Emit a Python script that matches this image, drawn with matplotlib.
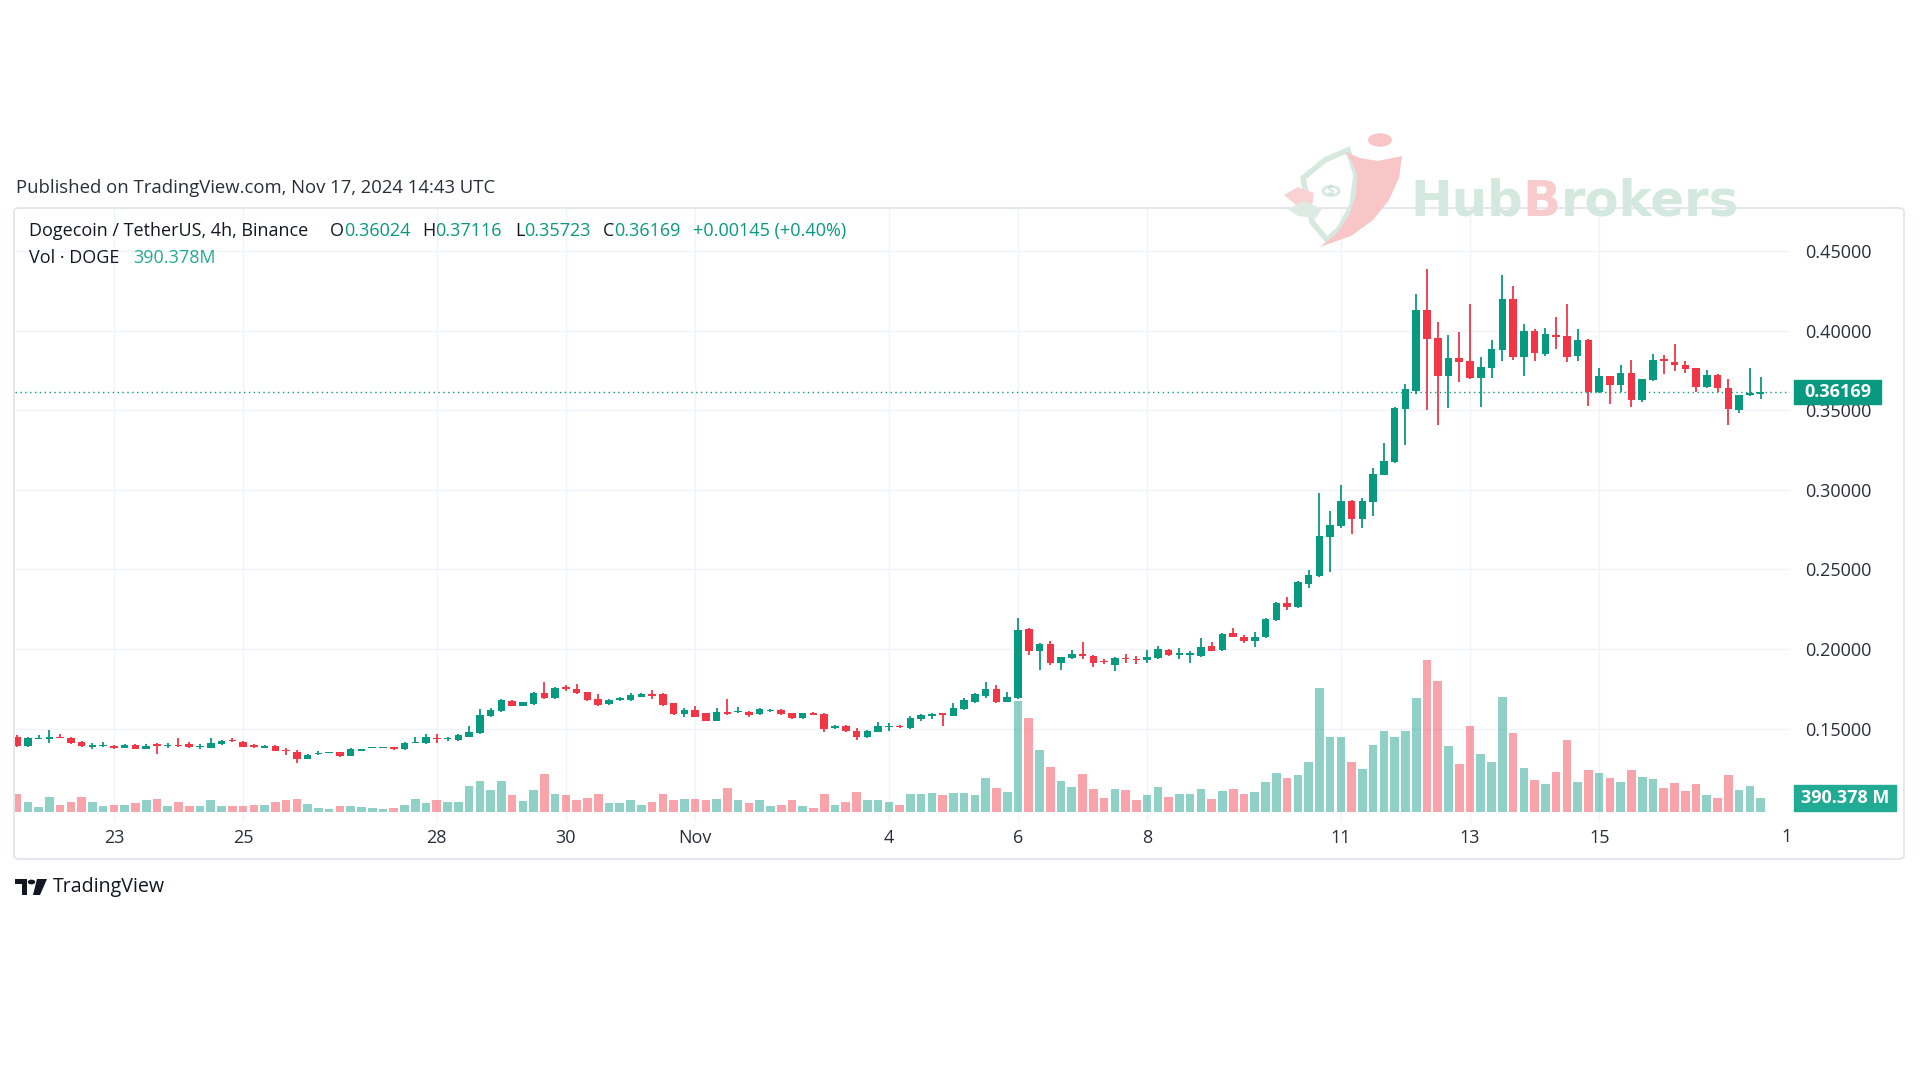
import matplotlib
matplotlib.use('Agg')
import matplotlib.pyplot as plt
import matplotlib.dates as mdates
import matplotlib.transforms as mtransforms
from matplotlib.patches import Rectangle, FancyBboxPatch, Circle, Polygon
import numpy as np
import pandas as pd

FONT = ['Open Sans', 'DejaVu Sans']
plt.rcParams['font.family'] = FONT

# ---------------- data (DOGE/USDT 4h, Binance) ----------------
first_bar = '2024-10-21 12:00'
opens = [0.1449, 0.1393, 0.1432, 0.1432, 0.1449, 0.1443, 0.1418, 0.1386, 0.1389, 0.1393,
         0.1380, 0.1395, 0.1372, 0.1401, 0.1389, 0.1397, 0.1403, 0.1382, 0.1380, 0.1401,
         0.1428, 0.1418, 0.1397, 0.1380, 0.1393, 0.1365, 0.1355, 0.1309, 0.1340, 0.1349,
         0.1355, 0.1330, 0.1359, 0.1380, 0.1380, 0.1382, 0.1370, 0.1407, 0.1407, 0.1443,
         0.1432, 0.1428, 0.1449, 0.1470, 0.1579, 0.1610, 0.1675, 0.1644, 0.1654, 0.1726,
         0.1690, 0.1759, 0.1749, 0.1728, 0.1686, 0.1652, 0.1682, 0.1680, 0.1700, 0.1715,
         0.1715, 0.1659, 0.1589, 0.1617, 0.1596, 0.1550, 0.1602, 0.1602, 0.1606, 0.1592,
         0.1608, 0.1617, 0.1596, 0.1564, 0.1596, 0.1592, 0.1502, 0.1516, 0.1485, 0.1445,
         0.1481, 0.1508, 0.1516, 0.1502, 0.1558, 0.1579, 0.1596, 0.1581, 0.1621, 0.1665,
         0.1705, 0.1749, 0.1669, 0.1690, 0.2123, 0.1989, 0.2031, 0.1910, 0.1941, 0.1969,
         0.1956, 0.1925, 0.1899, 0.1946, 0.1939, 0.1931, 0.1941, 0.1994, 0.1964, 0.1964,
         0.1956, 0.2019, 0.1994, 0.2102, 0.2077, 0.2050, 0.2073, 0.2182, 0.2291, 0.2262,
         0.2408, 0.2457, 0.2701, 0.2775, 0.2931, 0.2817, 0.2921, 0.3096, 0.3175, 0.3507,
         0.3623, 0.4127, 0.3955, 0.3716, 0.3825, 0.3809, 0.3705, 0.3767, 0.3879, 0.4199,
         0.3837, 0.4000, 0.3856, 0.3972, 0.3967, 0.3839, 0.3944, 0.3612, 0.3712, 0.3658,
         0.3735, 0.3565, 0.3688, 0.3821, 0.3804, 0.3781, 0.3763, 0.3647, 0.3723, 0.3642,
         0.3502, 0.3593, 0.36024]
highs = [0.1460, 0.1449, 0.1460, 0.1491, 0.1466, 0.1449, 0.1424, 0.1407, 0.1418, 0.1397,
         0.1403, 0.1401, 0.1403, 0.1407, 0.1407, 0.1439, 0.1418, 0.1401, 0.1439, 0.1428,
         0.1443, 0.1424, 0.1403, 0.1397, 0.1397, 0.1376, 0.1365, 0.1340, 0.1357, 0.1355,
         0.1355, 0.1376, 0.1374, 0.1386, 0.1384, 0.1386, 0.1416, 0.1445, 0.1464, 0.1466,
         0.1449, 0.1464, 0.1516, 0.1621, 0.1627, 0.1686, 0.1682, 0.1669, 0.1732, 0.1795,
         0.1763, 0.1774, 0.1778, 0.1732, 0.1715, 0.1684, 0.1700, 0.1726, 0.1721, 0.1742,
         0.1721, 0.1663, 0.1627, 0.1642, 0.1600, 0.1627, 0.1684, 0.1633, 0.1612, 0.1627,
         0.1623, 0.1623, 0.1600, 0.1600, 0.1604, 0.1596, 0.1520, 0.1520, 0.1506, 0.1491,
         0.1543, 0.1537, 0.1520, 0.1579, 0.1592, 0.1600, 0.1600, 0.1659, 0.1690, 0.1721,
         0.1795, 0.1774, 0.1732, 0.2197, 0.2134, 0.2036, 0.2050, 0.1952, 0.1994, 0.2042,
         0.1962, 0.1937, 0.1952, 0.1969, 0.1956, 0.1994, 0.2019, 0.1998, 0.2004, 0.1989,
         0.2067, 0.2042, 0.2098, 0.2130, 0.2088, 0.2105, 0.2192, 0.2297, 0.2329, 0.2425,
         0.2496, 0.2980, 0.2868, 0.3031, 0.2936, 0.2949, 0.3135, 0.3293, 0.3519, 0.3665,
         0.4227, 0.4390, 0.4053, 0.3972, 0.3990, 0.4169, 0.3832, 0.3944, 0.4348, 0.4279,
         0.4042, 0.4007, 0.4014, 0.4088, 0.4169, 0.4007, 0.3949, 0.3763, 0.3716, 0.3786,
         0.3816, 0.3698, 0.3856, 0.3844, 0.3918, 0.3809, 0.3767, 0.3751, 0.3728, 0.3693,
         0.3598, 0.3767, 0.37116]
lows = [0.1386, 0.1386, 0.1432, 0.1407, 0.1441, 0.1403, 0.1386, 0.1370, 0.1386, 0.1370,
        0.1376, 0.1370, 0.1370, 0.1340, 0.1376, 0.1386, 0.1378, 0.1372, 0.1376, 0.1397,
        0.1418, 0.1382, 0.1378, 0.1376, 0.1357, 0.1334, 0.1282, 0.1307, 0.1336, 0.1347,
        0.1323, 0.1328, 0.1357, 0.1376, 0.1378, 0.1366, 0.1365, 0.1407, 0.1403, 0.1407,
        0.1424, 0.1424, 0.1445, 0.1466, 0.1575, 0.1606, 0.1640, 0.1642, 0.1648, 0.1686,
        0.1686, 0.1736, 0.1717, 0.1675, 0.1644, 0.1646, 0.1675, 0.1675, 0.1696, 0.1686,
        0.1644, 0.1585, 0.1571, 0.1571, 0.1546, 0.1546, 0.1588, 0.1596, 0.1571, 0.1587,
        0.1602, 0.1585, 0.1560, 0.1560, 0.1583, 0.1476, 0.1497, 0.1481, 0.1428, 0.1439,
        0.1476, 0.1487, 0.1504, 0.1497, 0.1550, 0.1558, 0.1516, 0.1577, 0.1617, 0.1661,
        0.1690, 0.1659, 0.1665, 0.1686, 0.1962, 0.1868, 0.1899, 0.1868, 0.1937, 0.1935,
        0.1889, 0.1904, 0.1864, 0.1910, 0.1906, 0.1910, 0.1937, 0.1958, 0.1935, 0.1910,
        0.1948, 0.1985, 0.1989, 0.2073, 0.2036, 0.2010, 0.2069, 0.2178, 0.2245, 0.2255,
        0.2385, 0.2452, 0.2485, 0.2759, 0.2722, 0.2763, 0.2833, 0.3091, 0.3170, 0.3279,
        0.3600, 0.3502, 0.3409, 0.3512, 0.3677, 0.3693, 0.3519, 0.3705, 0.3809, 0.3816,
        0.3716, 0.3809, 0.3839, 0.3886, 0.3804, 0.3809, 0.3526, 0.3607, 0.3537, 0.3612,
        0.3523, 0.3549, 0.3684, 0.3728, 0.3746, 0.3735, 0.3612, 0.3642, 0.3612, 0.3409,
        0.3484, 0.3588, 0.35723]
closes = [0.1393, 0.1439, 0.1443, 0.1445, 0.1441, 0.1407, 0.1391, 0.1395, 0.1397, 0.1376,
          0.1397, 0.1372, 0.1393, 0.1393, 0.1397, 0.1389, 0.1382, 0.1391, 0.1407, 0.1422,
          0.1420, 0.1386, 0.1382, 0.1393, 0.1361, 0.1357, 0.1307, 0.1334, 0.1349, 0.1353,
          0.1328, 0.1370, 0.1372, 0.1382, 0.1382, 0.1370, 0.1411, 0.1418, 0.1449, 0.1432,
          0.1441, 0.1460, 0.1481, 0.1585, 0.1617, 0.1680, 0.1642, 0.1665, 0.1726, 0.1690,
          0.1757, 0.1751, 0.1721, 0.1680, 0.1648, 0.1680, 0.1690, 0.1711, 0.1715, 0.1707,
          0.1648, 0.1589, 0.1617, 0.1575, 0.1550, 0.1606, 0.1592, 0.1610, 0.1585, 0.1621,
          0.1617, 0.1589, 0.1564, 0.1596, 0.1587, 0.1497, 0.1516, 0.1485, 0.1445, 0.1485,
          0.1516, 0.1516, 0.1508, 0.1564, 0.1585, 0.1592, 0.1585, 0.1627, 0.1680, 0.1715,
          0.1749, 0.1665, 0.1700, 0.2119, 0.1989, 0.2029, 0.1910, 0.1948, 0.1969, 0.1958,
          0.1910, 0.1916, 0.1946, 0.1937, 0.1931, 0.1948, 0.1998, 0.1962, 0.1973, 0.1973,
          0.2015, 0.1989, 0.2094, 0.2077, 0.2050, 0.2073, 0.2188, 0.2287, 0.2262, 0.2418,
          0.2466, 0.2712, 0.2782, 0.2931, 0.2817, 0.2931, 0.3100, 0.3182, 0.3514, 0.3635,
          0.4127, 0.3949, 0.3716, 0.3825, 0.3804, 0.3705, 0.3774, 0.3886, 0.4199, 0.3832,
          0.3995, 0.3860, 0.3977, 0.3960, 0.3837, 0.3944, 0.3612, 0.3712, 0.3658, 0.3732,
          0.3565, 0.3693, 0.3814, 0.3809, 0.3781, 0.3758, 0.3647, 0.3723, 0.3642, 0.3507,
          0.3593, 0.3605, 0.36169]
volumes_m = [507, 277, 138, 407, 202, 277, 415, 277, 158, 202,
             202, 249, 324, 368, 166, 277, 158, 158, 324, 158,
             158, 158, 186, 202, 277, 324, 368, 230, 111, 75,
             158, 158, 130, 119, 75, 111, 186, 368, 249, 324,
             277, 277, 720, 850, 601, 850, 462, 296, 601, 1044,
             507, 462, 341, 388, 507, 249, 249, 324, 186, 277,
             507, 341, 368, 368, 324, 368, 665, 324, 249, 324,
             158, 186, 324, 158, 111, 507, 202, 277, 554, 324,
             324, 277, 202, 507, 507, 534, 462, 534, 534, 462,
             941, 678, 554, 3074, 2603, 1708, 1246, 858, 692, 1044,
             645, 388, 645, 601, 341, 462, 692, 415, 507, 507,
             645, 368, 590, 645, 507, 554, 831, 1080, 950, 1011,
             1371, 3447, 2063, 2063, 1398, 1191, 1855, 2254, 2077, 2254,
             3146, 4220, 3636, 1814, 1329, 2387, 1606, 1385, 3196, 2182,
             1229, 892, 767, 1116, 1997, 839, 1157, 1074, 941, 839,
             1157, 972, 922, 665, 800, 584, 767, 460, 390, 1025,
             615, 717, 390.378]

price_ticks = [0.15, 0.20, 0.25, 0.30, 0.35, 0.40, 0.45]
tick_dates = ['2024-10-23', '2024-10-25', '2024-10-28', '2024-10-30', '2024-11-01',
              '2024-11-04', '2024-11-06', '2024-11-08', '2024-11-11', '2024-11-13', '2024-11-15']
tick_labels = ['23', '25', '28', '30', 'Nov', '4', '6', '8', '11', '13', '15']
last_price = 0.36169
last_volume = 390.378

header = 'Published on TradingView.com, Nov 17, 2024 14:43 UTC'
symbol = 'Dogecoin / TetherUS, 4h, Binance'
ohlc_text = [('O', '0.36024'), ('H', '0.37116'), ('L', '0.35723'), ('C', '0.36169')]
change_text = '+0.00145 (+0.40%)'

# ---------------- style ----------------
GREEN = '#089981'
RED = '#F23645'
DARK = '#131722'
TXT = '#2a2e39'
GRID = '#f0f3fa'

W, H = 1920, 1080
fig = plt.figure(figsize=(W / 100, H / 100), dpi=100)
fig.patch.set_facecolor('white')
renderer = fig.canvas.get_renderer()


def fx(px):
    return px / W


def fy(py):
    return 1 - py / H


def fit(s, target, **kw):
    t = fig.text(0, 0, s, fontsize=12, **kw)
    w = t.get_window_extent(renderer).width
    t.remove()
    return 12 * target / w


FS = fit('0.36024', 67)          # legend / scale size
FS_HDR = fit(header, 476)
FS_TV = fit('TradingView', 112)

# layout in pixels
L, R, T, B = 15, 1790, 208, 822
VB, VH = 812, 170

ax = fig.add_axes([fx(L), fy(B), fx(R) - fx(L), (B - T) / H])
axv = fig.add_axes([fx(L), fy(VB), fx(R) - fx(L), VH / H])
ax.set_zorder(1)
axv.set_zorder(2)
axv.patch.set_visible(False)

o = np.array(opens); h = np.array(highs); lo = np.array(lows); c = np.array(closes)
v = np.array(volumes_m)
times = pd.date_range(first_bar, periods=len(c), freq='4h')
x = mdates.date2num(times)
bar_days = 4 / 24
up = c >= o
cols = np.where(up, GREEN, RED)

ppx = 0.05 / 79.6
p_top = 0.45 + (251 - T) * ppx
p_bot = 0.45 - (B - 251) * ppx
ax.set_ylim(p_bot, p_top)
x_left = x[0] - 0.19 * bar_days
x_right = x[0] + 164.73 * bar_days
ax.set_xlim(x_left, x_right)
axv.set_xlim(x_left, x_right)
axv.set_ylim(0, VH * 27.69)

for t in tick_dates:
    ax.axvline(mdates.date2num(pd.Timestamp(t)), color=GRID, lw=1, zorder=0)
for p in price_ticks:
    ax.axhline(p, color=GRID, lw=1, zorder=0)

ax.vlines(x, lo, h, colors=cols, lw=1.3, zorder=3)
body = np.maximum(np.abs(c - o), 0.0006)
ax.bar(x, body, bottom=np.minimum(o, c), width=bar_days * 0.70, color=cols, zorder=4, linewidth=0)

axv.bar(x, v, width=bar_days * 0.80, color=cols, alpha=0.45, linewidth=0)

ax.axhline(last_price, color=GREEN, lw=1, ls=(0, (1, 2.5)), zorder=2)

for a in (ax, axv):
    for s in a.spines.values():
        s.set_visible(False)
axv.set_xticks([]); axv.set_yticks([])

ax.yaxis.tick_right()
ax.set_yticks(price_ticks)
ax.set_yticklabels([f'{p:.5f}' for p in price_ticks])
ax.tick_params(axis='y', length=0, pad=11, labelsize=FS, labelcolor=TXT)
ax.set_xticks(mdates.date2num(pd.to_datetime(tick_dates)))
ax.set_xticklabels(tick_labels)
ax.tick_params(axis='x', length=0, pad=5, labelsize=FS, labelcolor=TXT)
fig.text(fx(1787), fy(837), '1', ha='center', va='center', fontsize=FS, color=TXT)

tp = mtransforms.blended_transform_factory(fig.transFigure, ax.transData)
bh = 24 * ppx
ax.add_patch(Rectangle((fx(1794), last_price - bh / 2), fx(1881) - fx(1794), bh,
                       transform=tp, color=GREEN, clip_on=False, zorder=6))
ax.text(fx(1837.5), last_price, f'{last_price:.5f}', transform=tp, ha='center', va='center',
        color='white', fontsize=FS, fontweight='bold', zorder=7, clip_on=False)
tv = mtransforms.blended_transform_factory(fig.transFigure, axv.transData)
vh = 26 * 27.69
axv.add_patch(Rectangle((fx(1794), last_volume - vh / 2), fx(1896) - fx(1794), vh,
                        transform=tv, color='#22ab94', clip_on=False, zorder=6))
axv.text(fx(1845), last_volume, f'{last_volume:.3f} M', transform=tv, ha='center', va='center',
         color='white', fontsize=FS, fontweight='bold', zorder=7, clip_on=False)

fig.add_artist(FancyBboxPatch((fx(14), fy(859)), fx(1904) - fx(14), (859 - 208) / H,
                              boxstyle='round,pad=0,rounding_size=0.003', transform=fig.transFigure,
                              fill=False, ec='#e0e3eb', lw=1.2, zorder=5))


def chain(x_px, y_px, parts, **kw):
    xx = x_px
    for s, col in parts:
        t = fig.text(fx(xx), fy(y_px), s, color=col, ha='left', va='center', **kw)
        xx += t.get_window_extent(renderer).width
    return xx


fig.text(fx(16), fy(188), header, ha='left', va='center', fontsize=FS_HDR, color=TXT)
chain(29, 231, [(symbol, DARK)], fontsize=FS)
for (lab, val), px in zip(ohlc_text, [330, 422, 515, 603]):
    chain(px, 231, [(lab, DARK), (val, GREEN)], fontsize=FS)
chain(693, 231, [(change_text, GREEN)], fontsize=FS)
chain(29, 258, [('Vol · DOGE', DARK)], fontsize=FS)
chain(133, 258, [('390.378M', '#22ab94')], fontsize=FS)

# watermark (HubBrokers) drawn above the chart panel
WZ = 10
wfs = fit('HubBrokers', 328, fontweight='bold', family='DejaVu Sans')
chain(1410, 202, [('Hub', '#d3e8de'), ('B', '#f8cccc'), ('rokers', '#d3e8de')],
      fontsize=wfs, fontweight='bold', family='DejaVu Sans', zorder=WZ)
PINK_W = '#f8c6c6'
GREEN_W = '#d6e9e0'


def fpoly(pts, **kw):
    fig.add_artist(Polygon([(fx(a), fy(b)) for a, b in pts], closed=True,
                           transform=fig.transFigure, **kw))


# shield outline
fpoly([(1303, 178), (1325, 160), (1348, 150), (1356, 175), (1352, 205), (1340, 228),
       (1327, 240), (1312, 222)], fill=False, ec=GREEN_W, lw=4, zorder=WZ)
fig.add_artist(Circle((fx(1331), fy(191)), 8 / W, transform=fig.transFigure, fill=False,
                      ec=GREEN_W, lw=2, zorder=WZ))
fig.text(fx(1331), fy(191), '$', fontsize=9, color='#c5dfd2', ha='center', va='center',
         family='DejaVu Sans', zorder=WZ)
# leaves
fpoly([(1284, 195), (1298, 187), (1314, 193), (1312, 206), (1296, 205)], color='#f9d3d3',
      ec='none', zorder=WZ)
fpoly([(1288, 209), (1304, 201), (1322, 209), (1316, 218), (1298, 216)], color='#dcece4',
      ec='none', zorder=WZ)
# swoosh + head
fpoly([(1345, 152), (1360, 158), (1378, 161), (1402, 156), (1399, 178), (1389, 200),
       (1373, 220), (1351, 236), (1320, 247), (1337, 233), (1349, 215), (1356, 195),
       (1357, 175), (1352, 162)], color=PINK_W, ec='none', zorder=WZ)
fig.add_artist(Circle((fx(1380), fy(140)), 12 / W, transform=fig.transFigure, color=PINK_W,
                      ec='none', zorder=WZ))

# TradingView logo
logo = [[(15, 879), (27, 879), (27, 895), (22, 895), (22, 884), (15, 884)],
        [(37, 879), (47, 879), (40, 895), (33, 895)]]
for poly in logo:
    fpoly(poly, color=DARK, ec='none', zorder=WZ)
fig.add_artist(Circle((fx(31.5), fy(882)), 3 / W, transform=fig.transFigure, color=DARK,
                      zorder=WZ))
fig.text(fx(53), fy(887), 'TradingView', ha='left', va='center', fontsize=FS_TV, color=DARK)

fig.savefig('out.png', dpi=100, facecolor='white')
